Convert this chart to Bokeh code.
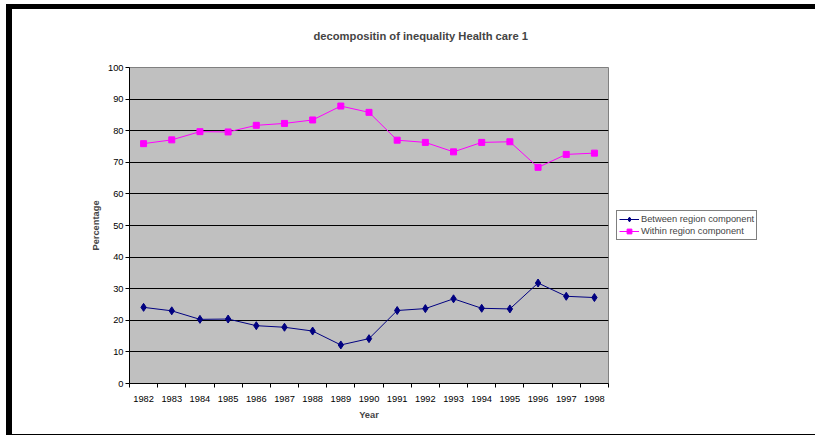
from bokeh.plotting import figure
from bokeh.models import Range1d, FixedTicker, Legend, LegendItem, Title
from bokeh.embed import file_html
from bokeh.resources import INLINE

years = [1982, 1983, 1984, 1985, 1986, 1987, 1988, 1989, 1990,
         1991, 1992, 1993, 1994, 1995, 1996, 1997, 1998]
between = [24.1, 23.0, 20.3, 20.4, 18.3, 17.8, 16.6, 12.2, 14.2,
           23.1, 23.7, 26.8, 23.8, 23.6, 31.8, 27.6, 27.2]
within = [75.9, 77.1, 79.7, 79.6, 81.7, 82.3, 83.4, 87.8, 85.8,
          77.0, 76.3, 73.3, 76.3, 76.5, 68.4, 72.5, 72.9]
y_ticks = [0, 10, 20, 30, 40, 50, 60, 70, 80, 90, 100]
title_text = "decompositin of inequality Health care 1"
x_label = "Year"
y_label = "Percentage"
labels = ["Between region component", "Within region component"]

FONT = "Liberation Sans"

p = figure(frame_width=479, frame_height=316,
           output_backend="svg", toolbar_location=None,
           x_range=Range1d(min(years) - 0.5, max(years) + 0.5),
           y_range=Range1d(0, 100),
           min_border_left=117, min_border_right=203,
           min_border_top=58, min_border_bottom=51,
           styles={"margin-top": "4px", "margin-left": "6px",
                   "box-sizing": "content-box",
                   "border-top": "5px solid black",
                   "border-left": "6px solid black",
                   "border-bottom": "1px solid black"})
p.title = None

p.background_fill_color = "#C0C0C0"
p.border_fill_color = "white"
p.outline_line_color = "#808080"
p.outline_line_width = 1

# spacer between frame and title, then the title itself
spacer = Title(text=" ", text_font_size="1px", standoff=21)
p.add_layout(spacer, "above")
title = Title(text=title_text, text_font=FONT, text_font_size="11.2px",
              text_font_style="bold", align="left", offset=184, standoff=4)
p.add_layout(title, "above")

# x axis
bounds = [y - 0.5 for y in years] + [max(years) + 0.5]
xa = p.xaxis[0]
xa.ticker = FixedTicker(ticks=years, minor_ticks=bounds)
xa.major_tick_out = 0
xa.major_tick_in = 0
xa.minor_tick_out = 4
xa.minor_tick_in = 0
xa.minor_tick_line_color = "black"
xa.axis_line_color = "black"
xa.major_label_text_font = FONT
xa.major_label_text_font_size = "9.3px"
xa.major_label_text_color = "black"
xa.major_label_standoff = 8
xa.axis_label = x_label
xa.axis_label_text_font = FONT
xa.axis_label_text_font_size = "9.3px"
xa.axis_label_text_font_style = "bold"
xa.axis_label_standoff = 5

# y axis
ya = p.yaxis[0]
ya.ticker = FixedTicker(ticks=y_ticks, minor_ticks=[])
ya.major_tick_out = 4
ya.major_tick_in = 0
ya.major_tick_line_color = "black"
ya.axis_line_color = "black"
ya.major_label_text_font = FONT
ya.major_label_text_font_size = "9.3px"
ya.major_label_text_color = "black"
ya.major_label_standoff = 2
ya.axis_label = y_label
ya.axis_label_text_font = FONT
ya.axis_label_text_font_size = "9.3px"
ya.axis_label_text_font_style = "bold"
ya.axis_label_standoff = 4

p.xgrid.visible = False
p.ygrid.ticker = FixedTicker(ticks=y_ticks[1:-1])
p.ygrid.grid_line_color = "black"
p.ygrid.grid_line_width = 1

# series
l1 = p.line(years, between, line_color="#000080", line_width=1)
m1 = p.scatter(years, between, marker="diamond", size=8,
               fill_color="#000080", line_color="#000080")
l2 = p.line(years, within, line_color="#FF00FF", line_width=1)
m2 = p.scatter(years, within, marker="square", size=6,
               fill_color="#FF00FF", line_color="#FF00FF")

legend = Legend(items=[LegendItem(label=labels[0], renderers=[l1, m1]),
                       LegendItem(label=labels[1], renderers=[l2, m2])],
                location="center_left", orientation="vertical")
legend.border_line_color = "black"
legend.border_line_width = 1
legend.background_fill_color = "white"
legend.background_fill_alpha = 1
legend.padding = 2
legend.spacing = 0
legend.margin = 8
legend.label_height = 12
legend.glyph_height = 12
legend.glyph_width = 20
legend.label_standoff = 2
legend.label_text_font = FONT
legend.label_text_font_size = "9.3px"
legend.label_text_baseline = "middle"
p.add_layout(legend, "right")

open("out.html", "w").write(file_html(p, INLINE))
